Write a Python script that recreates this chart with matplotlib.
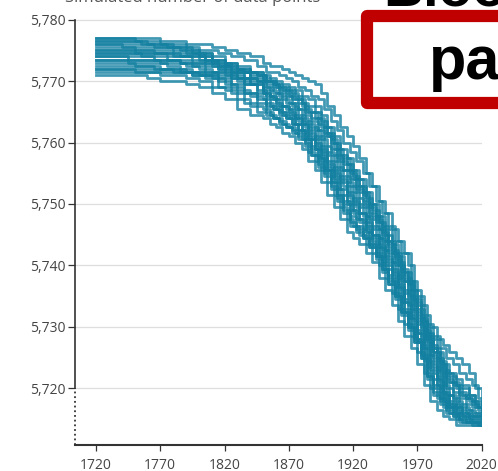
import matplotlib
matplotlib.use("Agg")
import matplotlib.pyplot as plt
from matplotlib.patches import Rectangle
from matplotlib.ticker import StrMethodFormatter
import matplotlib.transforms as mtransforms

# two sampling grids: the paths do not all step in the same years
years = list(range(1720, 1850, 10)) + list(range(1850, 2021, 5))
years_b = [1720] + list(range(1735, 1850, 10)) + [1852.5 + 5 * k for k in range(34)] + [2020]

# simulated paths
run_a = [5777, 5777, 5777, 5777, 5777, 5776.5, 5776.5, 5776, 5776, 5775.5, 5775, 5774.5, 5774,
         5773, 5772.5, 5772.5, 5772, 5771.5, 5771, 5770.5, 5770, 5769.5, 5768, 5766, 5764.5, 5762.5,
         5761, 5759.5, 5757.5, 5755, 5753, 5750.5, 5748.5, 5746, 5744, 5742, 5737.5, 5735, 5732,
         5730, 5728, 5727, 5726, 5725, 5724, 5722.5, 5720, 5717.5]
run_b = [5776, 5776, 5776, 5776, 5775.5, 5775.5, 5775.5, 5775, 5775, 5774.5, 5774, 5773.5, 5772.5,
         5771.5, 5771.5, 5771, 5770.5, 5770, 5769, 5768.5, 5767.5, 5767, 5765.5, 5763.5, 5762, 5760,
         5758.5, 5757, 5755, 5753, 5750.5, 5748.5, 5746.5, 5744, 5742, 5740, 5736, 5733.5, 5730.5,
         5728.5, 5726.5, 5725, 5724, 5722.5, 5721.5, 5720.5, 5718.5, 5717]
run_c = [5775.5, 5775.5, 5775.5, 5775, 5775, 5775, 5774.5, 5774.5, 5774, 5773.5, 5773, 5772.5, 5771.5,
         5770.5, 5770, 5769.5, 5769, 5768.5, 5767.5, 5766.5, 5766, 5765, 5763.5, 5761.5, 5760, 5758,
         5756.5, 5754.5, 5753, 5751, 5749, 5747, 5745, 5742.5, 5740.5, 5738, 5735, 5732, 5729.5,
         5727, 5725, 5723, 5722, 5720.5, 5720, 5719, 5717.5, 5716.5]
run_d = [5774.5, 5774.5, 5774.5, 5774.5, 5774.5, 5774, 5774, 5774, 5773.5, 5773, 5772, 5771.5, 5771,
         5770, 5769.5, 5768.5, 5768, 5767, 5766.5, 5765, 5764, 5763, 5761.5, 5760, 5758, 5756.5,
         5755, 5753, 5751.5, 5749.5, 5747.5, 5745.5, 5743.5, 5741.5, 5739, 5737, 5734, 5731, 5728.5,
         5726, 5724, 5721.5, 5720.5, 5719, 5718.5, 5717.5, 5717, 5716]
run_e = [5776.5, 5776.5, 5776.5, 5776.5, 5776, 5776, 5776, 5775.5, 5774.5, 5774, 5773, 5772, 5770.5,
         5769, 5768.5, 5768, 5767, 5766.5, 5765.5, 5764, 5763, 5762, 5760.5, 5758.5, 5757, 5755.5,
         5753.5, 5752, 5750, 5748, 5746.5, 5744.5, 5742.5, 5740.5, 5738, 5735.5, 5733, 5730.5, 5728,
         5725.5, 5723, 5720.5, 5719, 5718, 5717, 5716.5, 5716, 5715.5]
run_f = [5774, 5774, 5774, 5774, 5773.5, 5773.5, 5773, 5773, 5772.5, 5772, 5771.5, 5770.5, 5770,
         5769, 5768, 5767.5, 5766.5, 5766, 5764.5, 5763.5, 5762.5, 5761, 5759.5, 5758, 5756, 5754.5,
         5753, 5751, 5749.5, 5747.5, 5746, 5744, 5742, 5740, 5737.5, 5735, 5732.5, 5730, 5727.5,
         5725, 5722.5, 5720, 5718.5, 5717.5, 5716.5, 5716, 5716, 5715.5]
run_g = [5773.5, 5773.5, 5773.5, 5773.5, 5773.5, 5773, 5773, 5772.5, 5772, 5771.5, 5771, 5770, 5769.5,
         5768.5, 5767.5, 5767, 5766, 5765.5, 5764, 5763, 5762, 5760.5, 5759, 5757, 5755.5, 5754,
         5752, 5750.5, 5748.5, 5747, 5745, 5743.5, 5741.5, 5739.5, 5737, 5734.5, 5732, 5729.5, 5727,
         5724.5, 5722, 5719.5, 5718, 5717, 5716, 5715.5, 5715.5, 5715.5]
run_h = [5775, 5775, 5775, 5775, 5774.5, 5774.5, 5774, 5773.5, 5773, 5772, 5770.5, 5769.5, 5768.5,
         5767.5, 5767, 5766, 5765.5, 5764.5, 5763.5, 5762.5, 5761, 5759.5, 5758, 5756, 5754.5, 5753,
         5751, 5749.5, 5748, 5746, 5744.5, 5742.5, 5740.5, 5738.5, 5736, 5733.5, 5731, 5728.5, 5725.5,
         5723.5, 5721, 5719, 5717.5, 5716.5, 5716, 5715.5, 5715.5, 5715]
run_i = [5773, 5773, 5773, 5772.5, 5772.5, 5772, 5772, 5771.5, 5771, 5770.5, 5769.5, 5768.5, 5767.5,
         5767, 5766, 5765.5, 5764.5, 5764, 5763, 5761.5, 5760.5, 5759, 5757, 5755.5, 5753.5, 5751.5,
         5750, 5748.5, 5747, 5745.5, 5743.5, 5741.5, 5739.5, 5737.5, 5735, 5732.5, 5730, 5727.5, 5724.5,
         5722.5, 5720, 5718, 5717, 5716, 5715.5, 5715, 5715, 5715]
run_j = [5773.5, 5773.5, 5773, 5773, 5773, 5772.5, 5772, 5771.5, 5771, 5770, 5769, 5768, 5767,
         5766, 5765.5, 5764.5, 5764, 5763, 5762, 5761, 5759.5, 5758, 5756, 5754.5, 5752.5, 5750.5,
         5749, 5747.5, 5746, 5744.5, 5743, 5740.5, 5738.5, 5736.5, 5734, 5731.5, 5729, 5726.5, 5723.5,
         5721.5, 5719.5, 5717.5, 5716.5, 5715.5, 5715, 5714.5, 5714.5, 5714.5]
run_k = [5772, 5772, 5772, 5771.5, 5771.5, 5771, 5771, 5770.5, 5770, 5769, 5768.5, 5767, 5766,
         5765.5, 5764.5, 5764, 5763, 5762.5, 5761.5, 5760.5, 5758.5, 5757, 5755.5, 5753.5, 5751.5, 5749.5,
         5747.5, 5746.5, 5745, 5743.5, 5742, 5740, 5738, 5735.5, 5733, 5730.5, 5728.5, 5726, 5722.5,
         5720, 5718.5, 5717, 5716, 5715, 5714.5, 5714.5, 5714.5, 5714.5]
run_l = [5772.5, 5772.5, 5772.5, 5772.5, 5772, 5772, 5771.5, 5771, 5770.5, 5769, 5768, 5766.5, 5765,
         5764.5, 5764, 5763, 5762.5, 5761.5, 5760.5, 5759.5, 5758, 5756, 5754.5, 5752.5, 5750.5, 5748.5,
         5746.5, 5745.5, 5744.5, 5743, 5741, 5739, 5737, 5734.5, 5732, 5729.5, 5727.5, 5725, 5721.5,
         5719, 5717.5, 5716, 5715.5, 5714.5, 5714.5, 5714, 5714, 5714]
run_m = [5771, 5771, 5771, 5771, 5770.5, 5770, 5770, 5769.5, 5769, 5768, 5767, 5765.5, 5764.5,
         5764, 5763, 5762.5, 5761.5, 5761, 5760, 5759, 5757, 5755.5, 5753.5, 5751.5, 5749.5, 5747.5,
         5745.5, 5744.5, 5743.5, 5742, 5740.5, 5738, 5736, 5733.5, 5731, 5728.5, 5726.5, 5724, 5720.5,
         5718, 5716.5, 5715.5, 5715, 5714, 5714, 5714, 5714, 5714]
run_n = [5771.5, 5771.5, 5771.5, 5771.5, 5771.5, 5771.5, 5771.5, 5771, 5771, 5771, 5770.5, 5770.5, 5770,
         5769.5, 5769, 5768, 5767.5, 5766.5, 5765.5, 5764.5, 5763.5, 5762, 5761, 5759, 5757.5, 5755.5,
         5754, 5752.5, 5750.5, 5748.5, 5747, 5745, 5743, 5741, 5738.5, 5736, 5733.5, 5731, 5728,
         5726, 5723.5, 5721, 5719.5, 5718.5, 5717.5, 5717, 5716.5, 5716]
run_o = [5776, 5776, 5775.5, 5775.5, 5775.5, 5775.5, 5775, 5774.5, 5773.5, 5772.5, 5771.5, 5770.5, 5769.5,
         5768, 5767, 5766, 5765, 5764.5, 5763, 5762, 5760.5, 5759, 5757.5, 5755.5, 5754, 5752.5,
         5750.5, 5749, 5747.5, 5745.5, 5744, 5742, 5740, 5738, 5735.5, 5733, 5730.5, 5728, 5725,
         5723, 5720.5, 5718.5, 5717, 5716, 5715.5, 5715, 5715, 5715]
run_p = [5774, 5774, 5773.5, 5773.5, 5773.5, 5773.5, 5773.5, 5773, 5773, 5772.5, 5772, 5771.5, 5771,
         5770, 5769.5, 5769, 5768.5, 5768, 5767, 5765.5, 5765, 5764, 5762.5, 5760.5, 5759, 5757.5,
         5755.5, 5754, 5752, 5750, 5748, 5746.5, 5744, 5742, 5739.5, 5737.5, 5734.5, 5731.5, 5729,
         5726.5, 5724.5, 5722.5, 5721, 5719.5, 5718.5, 5718, 5717, 5716.5]
run_q = [5777, 5777, 5777, 5776.5, 5776.5, 5776, 5775.5, 5775, 5774.5, 5773.5, 5772.5, 5771.5, 5770,
         5768, 5767.5, 5766.5, 5766, 5765, 5764, 5763, 5761.5, 5760, 5758.5, 5756.5, 5755, 5753.5,
         5751.5, 5750, 5748.5, 5746.5, 5745, 5743, 5741, 5739, 5736.5, 5734, 5731.5, 5729, 5726.5,
         5724, 5721.5, 5719, 5717.5, 5717, 5716, 5715.5, 5715.5, 5715]
run_r = [5774.5, 5774.5, 5774.5, 5774, 5774, 5773.5, 5773, 5772.5, 5771.5, 5770.5, 5769.5, 5768, 5766.5,
         5765, 5764, 5763.5, 5762.5, 5762, 5761, 5760, 5758, 5756.5, 5755, 5753, 5751, 5749,
         5747, 5746, 5744.5, 5743, 5741.5, 5739.5, 5737, 5735, 5732.5, 5730, 5728, 5725.5, 5722,
         5719.5, 5718, 5716.5, 5715.5, 5715, 5714.5, 5714.5, 5714, 5714]
run_s = [5775, 5775, 5775, 5774.5, 5774.5, 5774.5, 5774, 5774, 5774, 5773, 5772.5, 5772, 5771,
         5770, 5770, 5769, 5768.5, 5767.5, 5767, 5766, 5765, 5764, 5762.5, 5761, 5759, 5757,
         5755.5, 5754, 5752, 5750, 5748, 5746, 5744, 5742, 5740, 5737.5, 5734.5, 5731.5, 5729,
         5726.5, 5724.5, 5722, 5721, 5720, 5719, 5718, 5717, 5716]
run_v = [5776.5, 5776.5, 5776.5, 5776, 5776, 5775.5, 5775, 5774.5, 5773.5, 5772.5, 5771, 5769.5, 5768,
         5766.5, 5765.5, 5765, 5764, 5763, 5762, 5760.5, 5759, 5757.5, 5755.5, 5753.5, 5751.5, 5750,
         5748, 5746.5, 5745, 5743.5, 5741.5, 5739.5, 5737.5, 5735, 5732.5, 5730, 5727.5, 5725, 5722,
         5720.5, 5718.5, 5717, 5716, 5715, 5714.5, 5714.5, 5714.5, 5714.5]
run_w = [5772, 5772, 5772, 5772, 5772, 5772, 5771.5, 5771.5, 5771.5, 5771.5, 5771.5, 5771.5, 5771.5,
         5771, 5770.5, 5770, 5769.5, 5769, 5768.5, 5767.5, 5767, 5766, 5764.5, 5762.5, 5761, 5759,
         5757.5, 5755.5, 5754, 5752, 5750, 5748, 5746, 5743.5, 5741.5, 5739, 5736, 5733, 5730,
         5728, 5726, 5724, 5722.5, 5721.5, 5720.5, 5719, 5718, 5717]

runs = [run_a, run_b, run_c, run_d, run_e, run_f, run_g, run_h, run_i, run_j, run_k,
        run_l, run_m, run_n, run_o, run_p, run_q, run_r, run_s, run_v, run_w]

y_ticks = [5720, 5730, 5740, 5750, 5760, 5770, 5780]
x_ticks = [1720, 1770, 1820, 1870, 1920, 1970, 2020]

plt.rcParams['font.family'] = ['Open Sans', 'DejaVu Sans']

fig = plt.figure(figsize=(4.98, 4.71), dpi=100)
ax = fig.add_axes([0.1506, 0.0552, 0.8173, 0.9059])

for i, run in enumerate(runs):
    yrs = years if i % 2 == 0 else years_b
    ax.step(yrs, run, where='post', color='#1380A1', lw=2.0, alpha=0.8, zorder=3)

ax.set_xlim(1703.7, 2020.3)
ax.set_ylim(5710.8, 5780.2)
ax.set_yticks(y_ticks)
ax.set_xticks(x_ticks)
ax.yaxis.set_major_formatter(StrMethodFormatter('{x:,.0f}'))
ax.yaxis.grid(True, color='#dedede', lw=0.9)
ax.set_axisbelow(True)

for s in ['top', 'right', 'left']:
    ax.spines[s].set_visible(False)
ax.spines['bottom'].set_color('#333333')
ax.spines['bottom'].set_linewidth(1.5)

# left axis: solid above 5,720, dotted below (broken axis)
trans = mtransforms.blended_transform_factory(ax.transAxes, ax.transData)
ax.plot([0, 0], [5720, 5780], transform=trans, color='#333333', lw=1.2, clip_on=False)
ax.plot([0, 0], [5710.8, 5720], transform=trans, color='#333333', lw=1.3,
        ls=(0, (1, 1.6)), clip_on=False)

ax.tick_params(axis='y', length=5, width=0.9, color='#333333', pad=1.5,
               labelsize=10, labelcolor='#444444')
ax.tick_params(axis='x', length=4, width=0.9, color='#333333', pad=5,
               labelsize=10, labelcolor='#444444')

# cut-off text from the surrounding slide
fig.text(65 / 498, 1 - 1.5 / 471, "Simulated number of data points", fontsize=12,
         color='#555555', va='baseline', ha='left')
fig.text(383 / 498, 1 - 5 / 471, "Blood", fontsize=40, weight='bold',
         family='Liberation Sans', va='baseline', ha='left', color='black')

box = Rectangle((367 / 498, 1 - 103 / 471), 300 / 498, 87 / 471, transform=fig.transFigure,
                facecolor='white', edgecolor='#c00000', lw=8.8, joinstyle='round',
                clip_on=False, zorder=10)
fig.add_artist(box)
fig.text(429 / 498, 1 - 79 / 471, "pa", fontsize=44, weight='bold',
         family='Liberation Sans', va='baseline', ha='left', color='black', zorder=11)

fig.savefig('out.png', dpi=100)
